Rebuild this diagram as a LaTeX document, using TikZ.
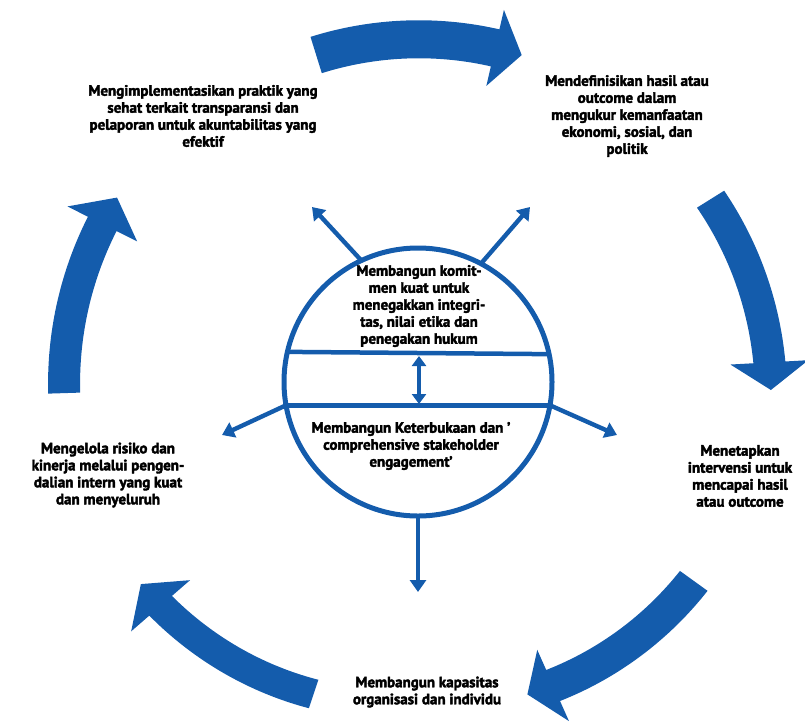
\documentclass[tikz,border=0pt]{standalone}
\usepackage{fontspec}
\setmainfont{PT Sans}[BoldFeatures={FakeBold=2.6}]
\usetikzlibrary{arrows.meta}
\definecolor{ringblue}{RGB}{20,92,172}
\tikzset{
  steptext/.style={font=\bfseries\fontsize{15}{17}\selectfont, align=center, text=black, inner sep=0pt},
  spoke/.style={draw=ringblue, line width=4.4pt, -{Triangle[width=16pt,length=12pt]}},
  twoway/.style={draw=ringblue, line width=4.4pt, {Triangle[width=14pt,length=10pt]}-{Triangle[width=14pt,length=10pt]}},
}
% curved block arrow around (\cx,\cy), running clockwise on the page
% #1 start angle, #2 angle of head base, #3 angle of tip,
% #4 radius at start, #5 radius at tip, #6 half width of the shaft
\newcommand\ringarrow[6]{%
  \pgfmathsetmacro\rk{(#5-#4)/(#3-#1)}%
  \pgfmathsetmacro\rb{#4+\rk*(#2-#1)}%
  \fill[ringblue]
    plot[domain=#1:#2,samples=40] ({\cx+(#4+\rk*(\x-#1)+#6)*cos(\x)},{\cy+(#4+\rk*(\x-#1)+#6)*sin(\x)})
    -- ({\cx+(\rb+\hw)*cos(#2)},{\cy+(\rb+\hw)*sin(#2)})
    -- ({\cx+#5*cos(#3)},{\cy+#5*sin(#3)})
    -- ({\cx+(\rb-\hw)*cos(#2)},{\cy+(\rb-\hw)*sin(#2)})
    -- plot[domain=#2:#1,samples=40] ({\cx+(#4+\rk*(\x-#1)-#6)*cos(\x)},{\cy+(#4+\rk*(\x-#1)-#6)*sin(\x)})
    -- cycle;
}
\begin{document}
\begin{tikzpicture}[x=1pt,y=-1pt]
\useasboundingbox (0,0) rectangle (805,726);
\def\cx{418}\def\cy{382}\def\hw{39}

% outer cycle of block arrows
\ringarrow{-107.3}{-77}{-72.4}{342.5}{343}{19}
\ringarrow{-32}{-3.2}{1.3}{345}{353}{16}
\ringarrow{35.8}{66}{70.7}{340}{331}{17}
\ringarrow{108.5}{139}{143.9}{329}{343}{15}
\ringarrow{178.2}{206.6}{211.5}{354}{353}{16}

% central disc
\node[circle, draw=ringblue, line width=5pt, minimum size=268pt, inner sep=0pt, outer sep=0pt] (hub) at (418,382) {};
\draw[ringblue, line width=4.5pt] (hub.12.5) -- (hub.167.5);
\draw[ringblue, line width=4.5pt] (hub.-10.75) -- (hub.190.75);
\coordinate (upper) at (419,356);
\coordinate (lower) at (419,404);
\draw[twoway] (upper) -- (lower);

% spokes
\coordinate (ul) at (312,207);
\coordinate (ur) at (530,207);
\coordinate (ll) at (222,435);
\coordinate (lr) at (617,435);
\coordinate (dn) at (418,592);
\draw[spoke] (hub.115) -- (ul);
\draw[spoke] (hub.62.3) -- (ur);
\draw[spoke] (hub.190.75) -- (ll);
\draw[spoke] (hub.-10.75) -- (lr);
\draw[spoke] (hub.270) -- (dn);

% texts
\node[steptext] (t1) at (203,116) {Mengimplementasikan praktik yang\\sehat terkait transparansi dan\\pelaporan untuk akuntabilitas yang\\efektif};
\node[steptext] (t2) at (627,116) {Mendefinisikan hasil atau\\outcome dalam\\mengukur kemanfaatan\\ekonomi, sosial, dan\\politik};
\node[steptext] (t3) at (740,476) {Menetapkan\\intervensi untuk\\mencapai hasil\\atau outcome};
\node[steptext] (t4) at (427,692) {Membangun kapasitas\\organisasi dan individu};
\node[steptext] (t5) at (108,475) {Mengelola risiko dan\\kinerja melalui pengen-\\dalian intern yang kuat\\dan menyeluruh};
\node[steptext] (h1) at (419,306) {Membangun komit-\\men kuat untuk\\menegakkan integri-\\tas, nilai etika dan\\penegakan hukum};
\node[steptext] (h2) at (411,446) {Membangun Keterbukaan dan '\\comprehensive stakeholder\\engagement'};
\end{tikzpicture}
\end{document}
